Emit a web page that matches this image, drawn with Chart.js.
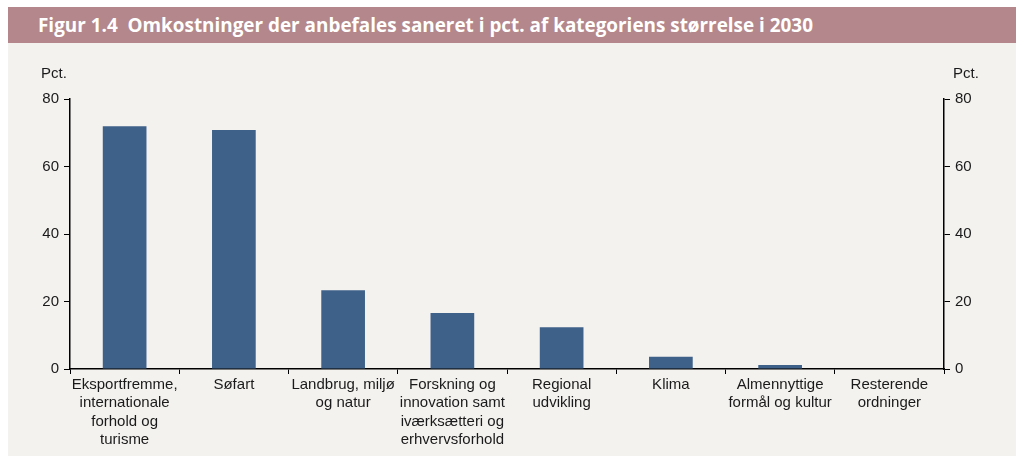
<!DOCTYPE html>
<html>
<head>
<meta charset="utf-8">
<script src="https://cdn.jsdelivr.net/npm/chart.js@4"></script>
<style>
  html, body { margin: 0; padding: 0; background: #ffffff; }
  #wrap { position: relative; width: 1016px; height: 456px; overflow: hidden; }
  #title {
    position: absolute; left: 8px; top: 7px; width: 1008px; height: 36px;
    background: #b3878b; color: #ffffff;
    font: bold 18.9px "Open Sans", sans-serif; line-height: 36px;
    padding-left: 30px; box-sizing: border-box; white-space: pre;
  }
  #panel { position: absolute; left: 8px; top: 43px; width: 1008px; height: 413px; background: #f4f2ef; }
</style>
</head>
<body>
<div id="wrap">
  <div id="title">Figur 1.4  Omkostninger der anbefales saneret i pct. af kategoriens størrelse i 2030</div>
  <div id="panel"><canvas id="chart" width="1008" height="413"></canvas></div>
</div>
<script>
  // Categories (multi-line labels as in the figure)
  const categories = [
    ["Eksportfremme,", "internationale", "forhold og", "turisme"],
    ["Søfart"],
    ["Landbrug, miljø", "og natur"],
    ["Forskning og", "innovation samt", "iværksætteri og", "erhvervsforhold"],
    ["Regional", "udvikling"],
    ["Klima"],
    ["Almennyttige", "formål og kultur"],
    ["Resterende", "ordninger"]
  ];

  // Share recommended for cuts, pct.
  const values = [71.9, 70.8, 23.3, 16.6, 12.4, 3.6, 1.2, 0];

  const yTicks = [0, 20, 40, 60, 80];

  const fontFamily = "Liberation Sans";
  const textColor = "#1a1a1a";

  // "Pct." labels above both axes
  const unitLabels = {
    id: "unitLabels",
    afterDraw(chart) {
      const ctx = chart.ctx;
      const area = chart.chartArea;
      ctx.save();
      ctx.font = "15px " + fontFamily;
      ctx.fillStyle = textColor;
      ctx.textBaseline = "middle";
      ctx.textAlign = "center";
      ctx.fillText("Pct.", 46, area.top - 25);
      ctx.fillText("Pct.", 958, area.top - 25);
      ctx.restore();
    }
  };

  const yAxisBase = {
    min: 0,
    max: 80,
    afterBuildTicks: (scale) => { scale.ticks = yTicks.map(v => ({ value: v })); },
    grid: { drawOnChartArea: false, drawTicks: true, tickLength: 6, color: "#000000", lineWidth: 1 },
    border: { display: true, color: "#000000", width: 1.5 },
    ticks: { color: textColor, font: { family: fontFamily, size: 15 }, padding: 5 }
  };

  new Chart(document.getElementById("chart"), {
    type: "bar",
    data: {
      labels: categories,
      datasets: [{
        data: values,
        backgroundColor: "#3e6189",
        borderWidth: 0,
        barPercentage: 0.4,
        categoryPercentage: 1.0,
        yAxisID: "y"
      }]
    },
    options: {
      responsive: false,
      animation: false,
      plugins: { legend: { display: false }, tooltip: { enabled: false } },
      layout: { padding: { top: 56, left: 0, right: 0, bottom: 0 } },
      scales: {
        x: {
          offset: true,
          grid: { offset: true, drawOnChartArea: false, drawTicks: true, tickLength: 5, color: "#000000" },
          border: { display: true, color: "#000000", width: 1.5 },
          ticks: {
            color: textColor, font: { family: fontFamily, size: 15, lineHeight: 1.21 },
            maxRotation: 0, autoSkip: false, padding: 2
          },
          afterFit: (scale) => { scale.height = 87; }
        },
        y: Object.assign({}, yAxisBase, {
          position: "left",
          afterFit: (scale) => { scale.width = 62; }
        }),
        y2: Object.assign({}, yAxisBase, {
          position: "right",
          afterFit: (scale) => { scale.width = 72; }
        })
      }
    },
    plugins: [unitLabels]
  });
</script>
</body>
</html>
